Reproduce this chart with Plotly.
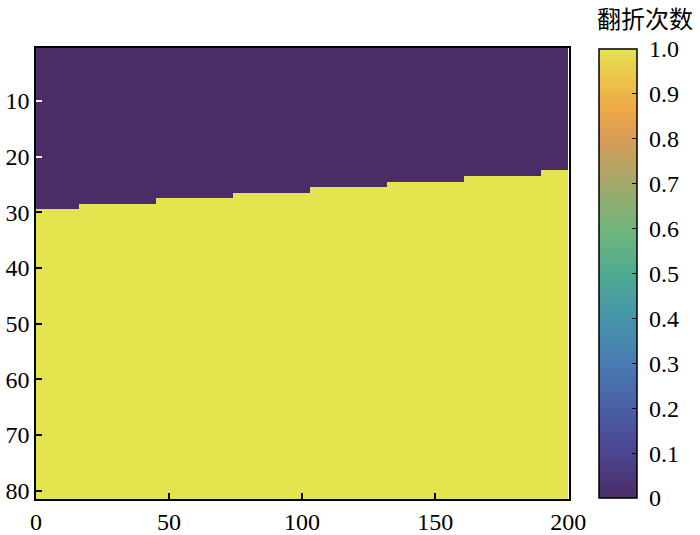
import numpy as np
import plotly.graph_objects as go

# 步进边界：每段的起始 x 及该段第一个"已翻折"的行号
n_cols = 200
n_rows = 81
seg_start = [0, 16, 45, 74, 103, 132, 161, 190]
first_row = [30, 29, 28, 27, 26, 25, 24, 23]

cb_ticks = [0, 0.1, 0.2, 0.3, 0.4, 0.5, 0.6, 0.7, 0.8, 0.9, 1.0]
cb_text = ['0', '0.1', '0.2', '0.3', '0.4', '0.5', '0.6', '0.7', '0.8', '0.9', '1.0']

# 构造 0/1 矩阵
z = np.zeros((n_rows, n_cols))
for j in range(n_cols):
    k = max(i for i, s in enumerate(seg_start) if j >= s)
    z[first_row[k] - 1:, j] = 1

cscale = [
    [0.0, '#4a2c66'], [0.1, '#4b4590'], [0.2, '#4a5fa6'], [0.3, '#4a7bb2'],
    [0.4, '#4593aa'], [0.5, '#4fab92'], [0.6, '#72b67c'], [0.7, '#a3a86a'],
    [0.8, '#d89c56'], [0.87, '#efaa48'], [0.93, '#eec24a'], [1.0, '#e4e44e'],
]

font = dict(family='Liberation Serif, Times New Roman, serif', size=24, color='black')

fig = go.Figure()
fig.add_trace(go.Heatmap(
    z=z, x0=0.5, dx=1, y0=1, dy=1,
    zmin=0, zmax=1, colorscale=cscale,
    colorbar=dict(
        x=1.056, xanchor='left', xpad=0,
        y=0.5, yanchor='middle', ypad=0,
        len=0.995, thickness=38,
        outlinecolor='black', outlinewidth=1.5,
        tickvals=cb_ticks, ticktext=[' ' + t for t in cb_text],
        ticks='inside', ticklen=5, tickcolor='black',
        tickfont=font,
    ),
    showscale=True,
))

# 紫色区域上的白色刻度
fig.add_trace(go.Scatter(x=[None], y=[None], yaxis='y2', showlegend=False))

fig.update_layout(
    width=700, height=535,
    margin=dict(l=36, r=131, t=48, b=36, autoexpand=False),
    paper_bgcolor='white', plot_bgcolor='white',
    font=font,
    xaxis=dict(
        range=[0, 200.3], tickvals=[0, 50, 100, 150, 200],
        ticks='inside', ticklen=6, tickcolor='black', tickwidth=1.5,
        showline=True, linecolor='black', linewidth=1.5, mirror=True,
        showgrid=False, zeroline=False, automargin=False,
    ),
    yaxis=dict(
        range=[81.5, 0.5], tickvals=[10, 20, 30, 40, 50, 60, 70, 80],
        ticks='inside', ticklen=6, tickcolor='black', tickwidth=1.5,
        showline=True, linecolor='black', linewidth=1.5, mirror=True,
        showgrid=False, zeroline=False, automargin=False,
    ),
    yaxis2=dict(
        overlaying='y', side='left', range=[81.5, 0.5],
        tickvals=[10, 20], ticks='inside', ticklen=6, tickcolor='white',
        tickwidth=1.5, showticklabels=False, showgrid=False, zeroline=False,
        automargin=False,
    ),
    annotations=[dict(
        text='翻折次数', x=1.1435, y=1.068, xref='paper', yref='paper',
        xanchor='center', yanchor='middle', showarrow=False,
        font=dict(family='Noto Sans CJK SC', size=24, color='black'),
    )],
)

# 去掉页面默认边距，让图贴齐窗口左上角
fig.write_html("out.html", config={'displayModeBar': False},
               post_script="document.body.style.margin='0';")
